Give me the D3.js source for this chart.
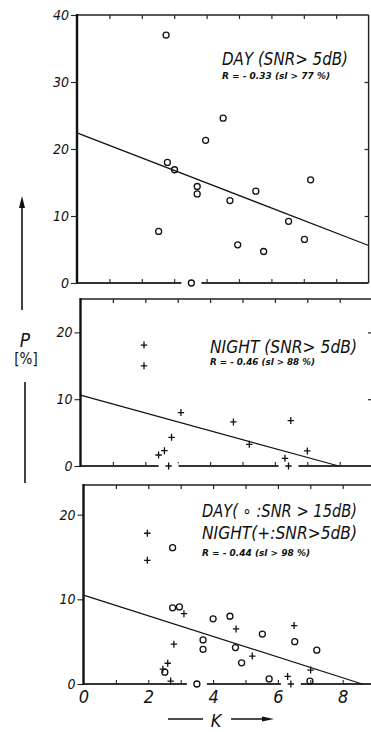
<!DOCTYPE html>
<html><head><meta charset="utf-8">
<script src="https://cdn.jsdelivr.net/npm/d3@7"></script>
<style>
html,body{margin:0;padding:0;background:#fff;}
svg{display:block;}
text{font-family:"DejaVu Sans Condensed","DejaVu Sans",sans-serif;font-style:italic;fill:#111;}
</style></head>
<body>
<svg id="c" width="371" height="732"></svg>
<script>
// ---------- DATA ----------
const kTicks = [0, 2, 4, 6, 8];
const kMinor = [1, 2, 3, 4, 5, 6, 7, 8];
const p1Ticks = [0, 10, 20, 30, 40];
const p2Ticks = [0, 10, 20];
const p3Ticks = [0, 10, 20];

// Panel 1: DAY (SNR > 5 dB), circles [K, P]
const day5 = [[2.75,37.0],[4.51,24.6],[3.97,21.3],[2.79,18.0],[3.01,16.9],[3.71,14.4],[3.71,13.3],
  [4.72,12.3],[5.52,13.7],[7.21,15.4],[6.53,9.2],[7.02,6.5],[4.96,5.7],[5.76,4.7],[2.52,7.7],[3.53,0]];
const fit1 = [[0,22.4],[9,5.6]];

// Panel 2: NIGHT (SNR > 5 dB), crosses [K, P]
const night5 = [[1.96,18.1],[1.96,15.0],[3.10,8.0],[4.72,6.6],[6.49,6.8],[5.21,3.25],[7.0,2.25],
  [2.81,4.3],[2.59,2.3],[2.41,1.65],[2.72,0],[6.31,1.15],[6.42,0]];
const fit2 = [[0,10.6],[7.97,0]];

// Panel 3: DAY (SNR > 15 dB) circles and NIGHT (SNR > 5 dB) crosses
const day15 = [[2.75,16.1],[2.75,9.0],[2.96,9.1],[4.0,7.7],[4.52,8.0],[5.52,5.9],[3.69,5.2],[3.69,4.1],
  [4.69,4.3],[4.88,2.5],[6.52,5.0],[7.2,4.0],[6.99,0.35],[5.73,0.6],[3.5,0],[2.51,1.4]];
const night5b = [[1.97,17.8],[1.97,14.6],[3.1,8.3],[4.71,6.5],[6.5,6.9],[5.21,3.3],[7.01,1.65],
  [2.79,4.7],[2.6,2.45],[2.45,1.75],[2.69,0.35],[6.3,0.9],[6.4,0]];
const fit3 = [[0,10.5],[8.6,0]];

// ---------- LAYOUT ----------
const svg = d3.select("#c");
const pxPerK = 32.4;
const panels = [
  {left:77,  top:15,  bottom:283, ymax:40,   ticks:p1Ticks, right:[10,20,30],
   circles:day5, crosses:[], fit:fit1,
   labels:[{t:"DAY (SNR> 5dB)", x:222, y:65, s:18, w:126},
           {t:"R = - 0.33 (sl > 77 %)", x:222, y:79, s:9.5, w:108, b:true}]},
  {left:80.5,top:299, bottom:466, ymax:25,   ticks:p2Ticks, right:[10,20],
   circles:[], crosses:night5, fit:fit2,
   labels:[{t:"NIGHT (SNR> 5dB)", x:210, y:353, s:17.5, w:147},
           {t:"R = - 0.46 (sl > 88 %)", x:210, y:365, s:9.5, w:105, b:true}]},
  {left:83.5,top:485, bottom:684, ymax:23.5, ticks:p3Ticks, right:[10,20],
   circles:day15, crosses:night5b, fit:fit3, xlabels:true,
   labels:[{t:"DAY( \u2218 :SNR > 15dB)", x:202, y:517, s:17, w:155},
           {t:"NIGHT(+:SNR>5dB)", x:202, y:539, s:17, w:155},
           {t:"R = - 0.44 (sl > 98 %)", x:202, y:556, s:9.5, w:108, b:true}]}
];

panels.forEach(p => {
  const x = d3.scaleLinear().domain([0, 9]).range([p.left, p.left + 9 * pxPerK]);
  const y = d3.scaleLinear().domain([0, p.ymax]).range([p.bottom, p.top]);
  const g = svg.append("g");

  // top border + ticks
  g.append("line").attr("x1", x(0)).attr("x2", x(9)).attr("y1", p.top).attr("y2", p.top)
    .attr("stroke", "#222").attr("stroke-width", 1.6);
  g.append("g").attr("transform", `translate(0,${p.top})`)
    .call(d3.axisTop(x).tickValues(kMinor).tickSize(-4).tickFormat(""))
    .call(a => { a.select(".domain").remove(); a.selectAll("line").attr("stroke","#222").attr("stroke-width",1.2); });

  // right border + ticks
  g.append("line").attr("x1", x(9)).attr("x2", x(9)).attr("y1", p.top).attr("y2", p.bottom)
    .attr("stroke", "#222").attr("stroke-width", 1.4);
  g.append("g").attr("transform", `translate(${x(9)},0)`)
    .call(d3.axisRight(y).tickValues(p.right).tickSize(-4).tickFormat(""))
    .call(a => { a.select(".domain").remove(); a.selectAll("line").attr("stroke","#222").attr("stroke-width",1.2); });

  // bottom axis line + inward ticks
  g.append("line").attr("x1", x(0)).attr("x2", x(9)).attr("y1", p.bottom).attr("y2", p.bottom)
    .attr("stroke", "#333").attr("stroke-width", 2);
  g.append("g").attr("transform", `translate(0,${p.bottom})`)
    .call(d3.axisBottom(x).tickValues(kMinor).tickSize(-4).tickFormat(""))
    .call(a => { a.select(".domain").remove(); a.selectAll("line").attr("stroke","#333").attr("stroke-width",1.2); });

  if (p.xlabels) {
    g.append("g").attr("transform", `translate(0,${p.bottom})`)
      .call(d3.axisBottom(x).tickValues(kTicks).tickSize(0).tickPadding(6).tickFormat(d3.format("d")))
      .call(a => { a.select(".domain").remove();
        a.selectAll("text").style("font-size","18px").style("font-family",'"DejaVu Sans Condensed","DejaVu Sans",sans-serif')
          .style("font-style","italic").attr("fill","#111"); });
  }

  // left axis
  g.append("g").attr("transform", `translate(${x(0)},0)`)
    .call(d3.axisLeft(y).tickValues(p.ticks).tickSize(6).tickPadding(2).tickFormat(d3.format("d")))
    .call(a => { a.select(".domain").remove(); a.selectAll("line").attr("stroke","#222").attr("stroke-width",1.1);
      a.selectAll("text").style("font-size","14px").style("font-family",'"DejaVu Sans Condensed","DejaVu Sans",sans-serif')
        .style("font-style","italic").attr("fill","#111"); });
  g.append("line").attr("x1", x(0)).attr("x2", x(0)).attr("y1", p.top - 1).attr("y2", p.bottom + 1)
    .attr("stroke", "#111").attr("stroke-width", 2.4);

  // regression line
  g.append("path").datum(p.fit)
    .attr("d", d3.line().x(d => x(d[0])).y(d => y(d[1])))
    .attr("fill", "none").attr("stroke", "#111").attr("stroke-width", 1.2);

  // gaps in the base line under points lying on it
  const onAxis = p.circles.concat(p.crosses).filter(d => d[1] === 0);
  g.selectAll("rect.gap").data(onAxis).join("rect").attr("class","gap")
    .attr("x", d => x(d[0]) - 10).attr("y", p.bottom - 3).attr("width", 20).attr("height", 6)
    .attr("fill", "#fff");

  // circles
  g.selectAll("circle.pt").data(p.circles).join("circle").attr("class","pt")
    .attr("cx", d => x(d[0])).attr("cy", d => y(d[1])).attr("r", 3)
    .attr("fill", "none").attr("stroke", "#111").attr("stroke-width", 1.3);
  // crosses
  g.selectAll("path.pt").data(p.crosses).join("path").attr("class","pt")
    .attr("d", d => { const cx = x(d[0]), cy = y(d[1]); return `M${cx-3.2},${cy}H${cx+3.2}M${cx},${cy-3.5}V${cy+3.5}`; })
    .attr("stroke", "#111").attr("stroke-width", 1.3);

  // labels
  p.labels.forEach(l => {
    g.append("text").attr("x", l.x).attr("y", l.y).text(l.t)
      .style("font-size", l.s + "px").style("font-weight", l.b ? "bold" : "normal")
      .attr("textLength", l.w).attr("lengthAdjust", "spacingAndGlyphs");
  });
});

// y axis title with arrow
svg.append("line").attr("x1", 22).attr("x2", 22).attr("y1", 310).attr("y2", 206)
  .attr("stroke", "#111").attr("stroke-width", 1.6);
svg.append("path").attr("d", "M22,196 L19,208 L25,208 Z").attr("fill", "#111");
svg.append("text").attr("x", 25).attr("y", 347).attr("text-anchor", "middle").style("font-size", "19px").text("P");
svg.append("text").attr("x", 26).attr("y", 364).attr("text-anchor", "middle").style("font-size", "15px")
  .style("font-style", "normal").text("[%]");
svg.append("line").attr("x1", 25).attr("x2", 25).attr("y1", 382).attr("y2", 483)
  .attr("stroke", "#111").attr("stroke-width", 1.6);

// x axis title
svg.append("line").attr("x1", 168).attr("x2", 203).attr("y1", 719).attr("y2", 719).attr("stroke", "#111").attr("stroke-width", 1.4);
svg.append("text").attr("x", 216).attr("y", 727).attr("text-anchor", "middle").style("font-size", "18px").text("K");
svg.append("line").attr("x1", 231).attr("x2", 268).attr("y1", 719).attr("y2", 719).attr("stroke", "#111").attr("stroke-width", 1.4);
svg.append("path").attr("d", "M274,719 L262,716.5 L262,721.5 Z").attr("fill", "#111");
</script>
</body></html>
